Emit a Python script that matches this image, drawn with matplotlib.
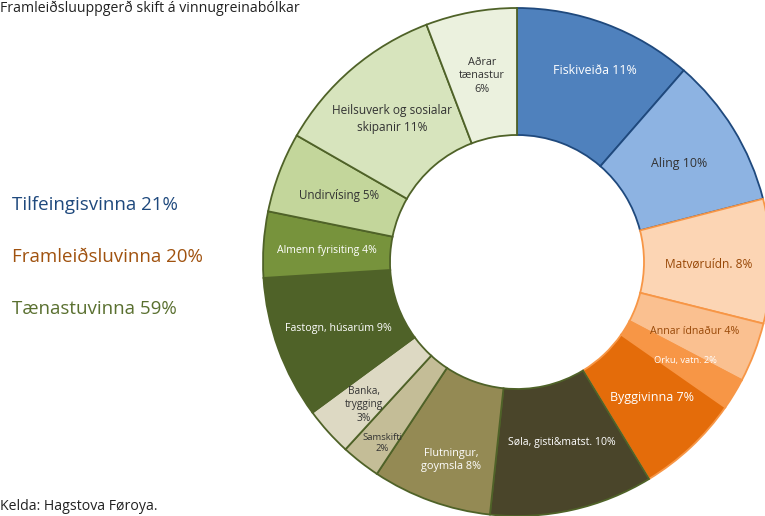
import matplotlib
matplotlib.use('Agg')
import matplotlib.pyplot as plt

plt.rcParams['font.family'] = ['Open Sans', 'DejaVu Sans']

# Virksemi, klokkuvegis frá toppinum
labels = ['Fiskiveiða 11%', 'Aling 10%', 'Matvøruídn. 8%', 'Annar ídnaður 4%',
          'Orku, vatn. 2%', 'Byggivinna 7%', 'Søla, gisti&matst. 10%',
          'Flutningur,\ngoymsla 8%', 'Samskifti\n2%', 'Banka,\ntrygging\n3%',
          'Fastogn, húsarúm 9%', 'Almenn fyrisiting 4%', 'Undirvísing 5%',
          'Heilsuverk og sosialar\nskipanir 11%', 'Aðrar\ntænastur\n6%']
shares = [11.4, 9.6, 7.9, 3.8, 2.0, 6.6, 10.4, 7.6, 2.5, 3.1, 9.1, 4.2, 5.1, 10.9, 5.8]
groups = ['Tilfeingisvinna 21%', 'Framleiðsluvinna 20%', 'Tænastuvinna 59%']
group_of = [0, 0, 1, 1, 1, 1, 2, 2, 2, 2, 2, 2, 2, 2, 2]

colors = ['#4f81bd', '#8db3e2', '#fcd5b4', '#fac090', '#f79646', '#e46c0a',
          '#4a452a', '#948a54', '#c4bd97', '#ddd9c3', '#4f6228', '#77933c',
          '#c3d69b', '#d7e4bd', '#ebf1de']
edge_cols = ['#1f497d', '#f79646', '#4f6228']
group_txt = ['#1f497d', '#a0520f', '#5a7030']
txt_cols = ['white', '#333333', '#984807', '#984807', 'white', 'white', 'white',
            'white', '#333333', '#333333', 'white', 'white', '#333333', '#333333', '#333333']
txt_size = [8.9, 8.9, 8.6, 7.7, 6.7, 9, 7.6, 7.8, 6.8, 7.3, 7.7, 7.6, 8.4, 8.6, 7.8]
# plass fyri tekstin (pixlar)
lab_px = [(595, 71), (679, 163), (709, 264), (695, 332), (685, 360), (652, 397),
          (562, 443), (451, 460), (382, 443), (364, 405), (338, 328), (327, 250),
          (339, 196), (392, 119), (482, 76)]

W, H = 765, 516
cx, cy, R = 517, 262, 254
fig = plt.figure(figsize=(W / 100, H / 100), dpi=100)
ax = fig.add_axes([(cx - R) / W, (H - cy - R) / H, 2 * R / W, 2 * R / H])

wedges, _ = ax.pie(shares, colors=colors, startangle=90, counterclock=False,
                   radius=1, wedgeprops=dict(width=0.5, linewidth=1.3))
for w, g in zip(wedges, group_of):
    w.set_edgecolor(edge_cols[g])
ax.set_xlim(-1, 1)
ax.set_ylim(-1, 1)
ax.set_aspect('equal')
ax.axis('off')

for lab, (px, py), c, s in zip(labels, lab_px, txt_cols, txt_size):
    ax.text((px - cx) / R, (cy - py) / R, lab, color=c, fontsize=s,
            ha='center', va='center', linespacing=1.35)

for i, g in enumerate(groups):
    fig.text(12 / W, 1 - (205 + 52 * i) / H, g, color=group_txt[i], fontsize=13.5,
             ha='left', va='center')

fig.text(0, 1 - 8 / H, 'Framleiðsluuppgerð skift á vinnugreinabólkar',
         fontsize=10.2, ha='left', va='center', color='#222222')
fig.text(0, 1 - 507 / H, 'Kelda: Hagstova Føroya.', fontsize=10.2,
         ha='left', va='center', color='#222222')

fig.savefig('out.png', dpi=100)
